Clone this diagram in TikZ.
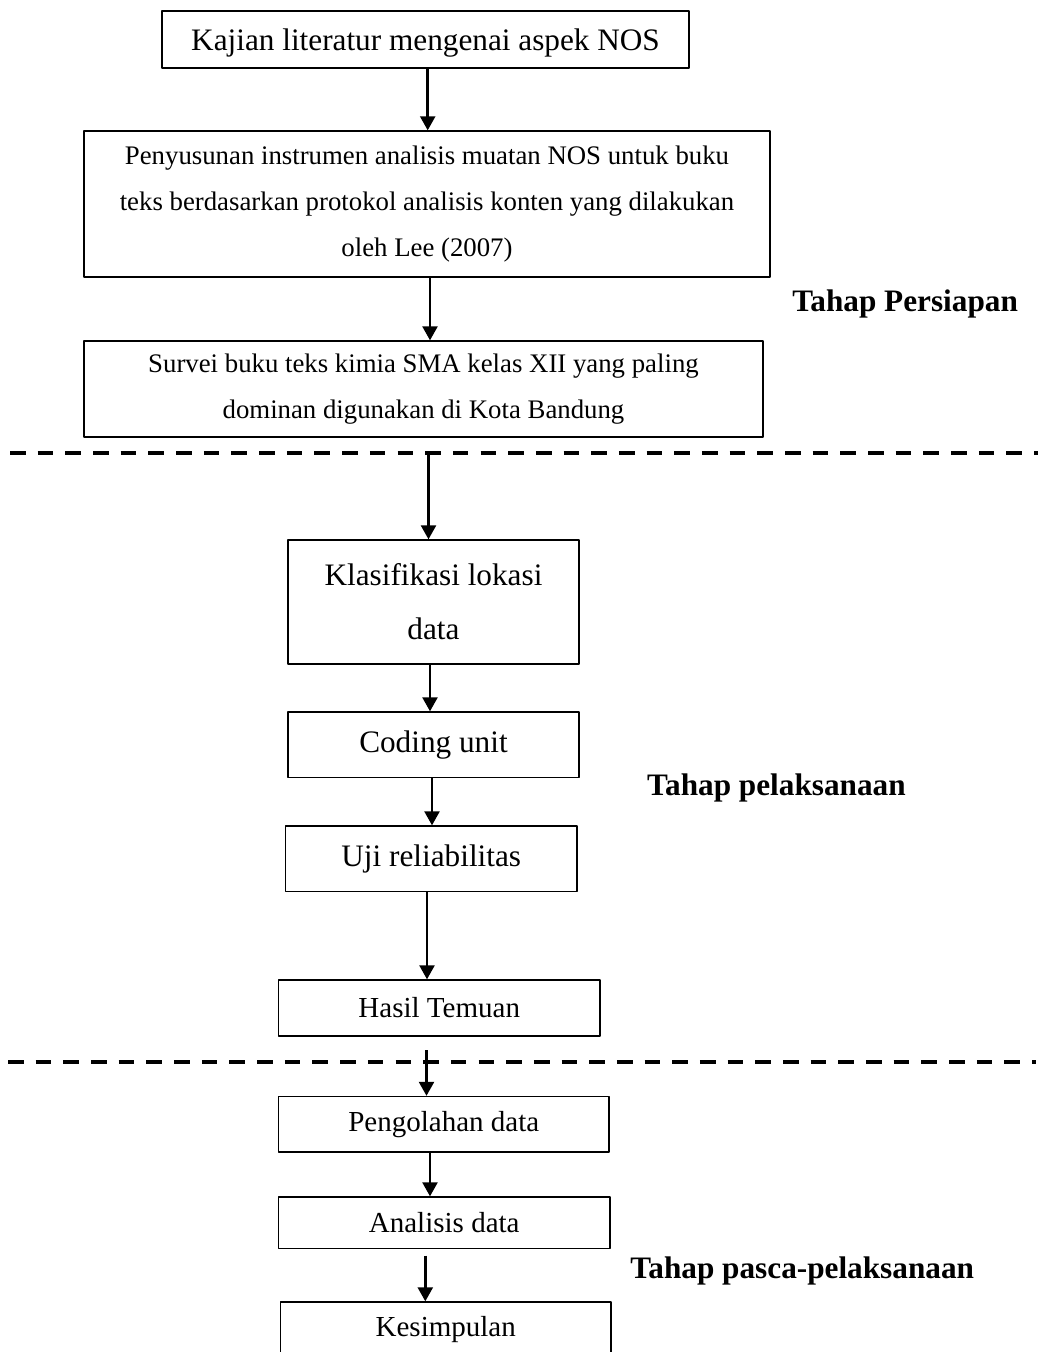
\documentclass[tikz,border=0pt]{standalone}
\usepackage{fontspec}
\setmainfont{Liberation Serif}
\usetikzlibrary{arrows.meta}
\newlength\pxunit
\setlength\pxunit{0.448pt}
\begin{document}
\begin{tikzpicture}[x=0.448pt, y=-0.448pt, line join=round, >={Triangle[length=6.3pt,width=6.7pt]},
    box/.style={draw, line width=0.6pt, align=center, inner sep=0pt},
    big/.style={font=\fontsize{14}{24.2}\selectfont},
    mid/.style={font=\fontsize{13}{16}\selectfont},
    small/.style={font=\fontsize{12}{20.8}\selectfont},
    arr/.style={->, line width=1.2pt},
    sep/.style={line width=1.8pt, dash pattern=on 7pt off 5.4pt},
    phase/.style={anchor=base west, inner sep=0pt, font=\fontsize{14}{16}\selectfont\bfseries}]
  \useasboundingbox (0,0) rectangle (1041,1352);
  \node[box, big, text depth=0pt, minimum width=527\pxunit, minimum height=57\pxunit] (lit) at (425.5,39.5) {Kajian literatur mengenai aspek NOS};
  \node[box, small, minimum width=686\pxunit, minimum height=146\pxunit] (inst) at (427,204) {Penyusunan instrumen analisis muatan NOS untuk buku\\teks berdasarkan protokol analisis konten yang dilakukan\\oleh Lee (2007)};
  \node[box, small, minimum width=679\pxunit, minimum height=96\pxunit] (surv) at (423.5,389) {Survei buku teks kimia SMA kelas XII yang paling\\dominan digunakan di Kota Bandung};
  \node[box, big, minimum width=291\pxunit, minimum height=124\pxunit] (klas) at (433.5,602) {Klasifikasi lokasi\\data};
  \node[box, big, minimum width=291\pxunit, minimum height=65.5\pxunit] (cod) at (433.5,744.75) {Coding unit};
  \node[box, big, minimum width=291.5\pxunit, minimum height=65.5\pxunit] (uji) at (431.25,858.75) {Uji reliabilitas};
  \node[box, mid, minimum width=321.5\pxunit, minimum height=56\pxunit] (hasil) at (439.25,1008) {Hasil Temuan};
  \node[box, mid, minimum width=330.5\pxunit, minimum height=55.5\pxunit] (olah) at (443.75,1124.25) {Pengolahan data};
  \node[box, mid, minimum width=331.5\pxunit, minimum height=51.5\pxunit] (anal) at (444.25,1222.75) {Analisis data};
  \node[box, mid, minimum width=330.5\pxunit, minimum height=56\pxunit] (simp) at (445.75,1330) {Kesimpulan};
  \node[phase] (prep) at (792,311.7) {Tahap Persiapan};
  \node[phase] (exec) at (646.7,795) {Tahap pelaksanaan};
  \node[phase] (post) at (630,1278) {Tahap pasca-pelaksanaan};
  \coordinate (s1l) at (10,453);
  \coordinate (s1r) at (1038,453);
  \coordinate (s2l) at (8,1062);
  \coordinate (s2r) at (1036,1062);
  \draw[sep] (s1l) -- (s1r);
  \draw[sep] (s2l) -- (s2r);
  \coordinate (c1) at (427.7,0);
  \coordinate (c2) at (430,0);
  \coordinate (p3) at (428.5,453);
  \coordinate (c4) at (430,0);
  \coordinate (c5) at (432,0);
  \coordinate (c6) at (427,0);
  \coordinate (p7) at (426.5,1050);
  \coordinate (c8) at (430,0);
  \coordinate (c9) at (425.3,0);
  \draw[arr] (lit.south -| c1) -- (inst.north -| c1);
  \draw[arr] (inst.south -| c2) -- (surv.north -| c2);
  \draw[arr] (p3) -- (klas.north -| p3);
  \draw[arr] (klas.south -| c4) -- (cod.north -| c4);
  \draw[arr] (cod.south -| c5) -- (uji.north -| c5);
  \draw[arr] (uji.south -| c6) -- (hasil.north -| c6);
  \draw[arr] (p7) -- (olah.north -| p7);
  \draw[arr] (olah.south -| c8) -- (anal.north -| c8);
  \draw[arr, shorten <=2.9pt] (anal.south -| c9) -- (simp.north -| c9);
\end{tikzpicture}
\end{document}
